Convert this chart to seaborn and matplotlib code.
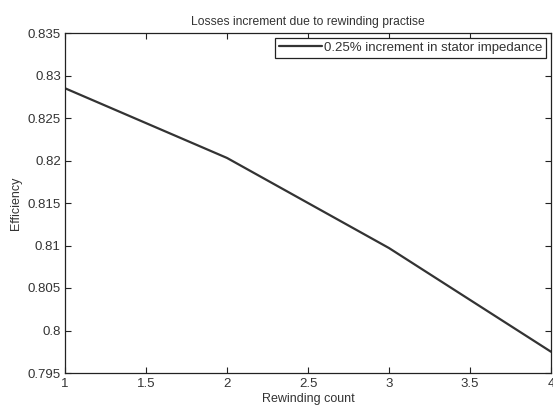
import matplotlib
matplotlib.use("Agg")
import matplotlib.pyplot as plt
import seaborn as sns
import pandas as pd

rewinding_count = [1, 2, 3, 4]
efficiency = [0.8285, 0.8203, 0.8097, 0.7975]
series_label = "0.25% increment in stator impedance"
x_ticks = [1, 1.5, 2, 2.5, 3, 3.5, 4]
y_ticks = [0.795, 0.8, 0.805, 0.81, 0.815, 0.82, 0.825, 0.83, 0.835]
x_tick_labels = ["1", "1.5", "2", "2.5", "3", "3.5", "4"]
y_tick_labels = ["0.795", "0.8", "0.805", "0.81", "0.815", "0.82", "0.825", "0.83", "0.835"]

sns.set_style("ticks")
plt.rcParams["font.family"] = ["Liberation Sans", "DejaVu Sans"]
tc = "#333333"

df = pd.DataFrame({"Rewinding count": rewinding_count, "Efficiency": efficiency,
                   "series": series_label})

fig = plt.figure(figsize=(5.53, 4.05), dpi=100)
ax = fig.add_axes([65/553, 32/405, (551-65)/553, (373-33)/405])
sns.lineplot(data=df, x="Rewinding count", y="Efficiency", hue="series",
             palette=["#333333"], linewidth=1.6, ax=ax)

ax.set_xlim(1, 4)
ax.set_ylim(0.795, 0.835)
ax.set_xticks(x_ticks)
ax.set_xticklabels(x_tick_labels)
ax.set_yticks(y_ticks)
ax.set_yticklabels(y_tick_labels)
ax.tick_params(direction="in", top=True, right=True, labelsize=9.5, length=4,
               width=0.8, colors="#222222", labelcolor=tc, pad=3)
ax.tick_params(axis="x", pad=3.5)
for s in ax.spines.values():
    s.set_visible(True)
    s.set_linewidth(0.9)
    s.set_color("#222222")
ax.set_xlabel("Rewinding count", fontsize=9, labelpad=2, color=tc)
ax.set_ylabel("Efficiency", fontsize=9, labelpad=4, color=tc)
ax.set_title("Losses increment due to rewinding practise", fontsize=8.7, pad=6,
             color=tc)
leg = ax.legend(loc="upper right", fontsize=9.5, frameon=True, fancybox=False,
                edgecolor="#222222", framealpha=1, borderaxespad=0.35,
                handlelength=3.3, handletextpad=0.15, borderpad=0.3)
for t in leg.get_texts():
    t.set_color(tc)
leg.get_frame().set_linewidth(0.9)
fig.savefig("out.png", dpi=100, facecolor="white")
